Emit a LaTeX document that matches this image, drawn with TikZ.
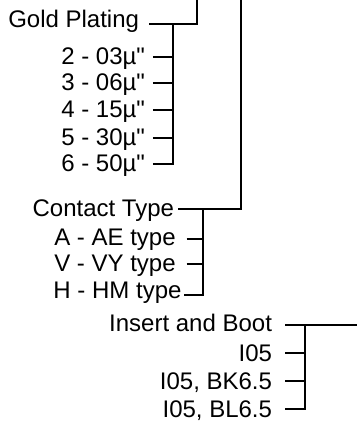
\documentclass[tikz,border=0pt]{standalone}
\usepackage{fontspec}
\newfontfamily\labelfont{Liberation Sans}
\begin{document}
\begin{tikzpicture}[x=0.5pt, y=-0.5pt, line width=1pt,
  lbl/.style={anchor=base east, inner sep=0pt, font=\labelfont\fontsize{12}{14}\selectfont}]
\useasboundingbox (0,0) rectangle (357,424);

% Nodes
\node[lbl] (gold) at (140,27) {Gold Plating};
\node[lbl] (g2) at (146,64.3) {2 - 03µ"};
\node[lbl] (g3) at (146,90.3) {3 - 06µ"};
\node[lbl] (g4) at (146,117.3) {4 - 15µ"};
\node[lbl] (g5) at (146,145.3) {5 - 30µ"};
\node[lbl] (g6) at (146,171.3) {6 - 50µ"};

\node[lbl] (contact) at (175,216) {Contact Type};
\node[lbl] (ctA) at (176.7,245) {A - AE type};
\node[lbl] (ctV) at (176.7,271.5) {V - VY type};
\node[lbl] (ctH) at (182.5,298.3) {H - HM type};

\node[lbl] (insert) at (273,331.5) {Insert and Boot};
\node[lbl] (ib1) at (273,361.3) {I05};
\node[lbl] (ib2) at (273,389.3) {I05, BK6.5};
\node[lbl] (ib3) at (273,417.3) {I05, BL6.5};

% Coordinates
\coordinate (gold-top) at (197,0);
\coordinate (gold-spine) at (173,24);
\coordinate (contact-top) at (241,0);
\coordinate (contact-spine) at (203,209);
\coordinate (insert-end) at (357,325);
\coordinate (insert-spine) at (305,325);

% Edges
\draw ([xshift=4.5pt,yshift=1.5pt]gold.base east) -| (gold-top);
\draw ([xshift=3.4pt,yshift=3.65pt]g2.base east) -| (gold-spine);
\draw ([xshift=3.4pt,yshift=3.65pt]g3.base east) -| (gold-spine);
\draw ([xshift=3.4pt,yshift=3.65pt]g4.base east) -| (gold-spine);
\draw ([xshift=3.4pt,yshift=3.65pt]g5.base east) -| (gold-spine);
\draw ([xshift=3.4pt,yshift=3.65pt]g6.base east) -| (gold-spine);

\draw ([xshift=1.65pt,yshift=3.5pt]contact.base east) -| (contact-top);
\draw ([xshift=5pt,yshift=3pt]ctA.base east) -| (contact-spine);
\draw ([xshift=5pt,yshift=3.75pt]ctV.base east) -| (contact-spine);
\draw ([xshift=0.75pt,yshift=1.65pt]ctH.base east) -| (contact-spine);

\draw ([xshift=6pt,yshift=3.25pt]insert.base east) -- (insert-end);
\draw ([xshift=6pt,yshift=4.15pt]ib1.base east) -| (insert-spine);
\draw ([xshift=6pt,yshift=4.15pt]ib2.base east) -| (insert-spine);
\draw ([xshift=6pt,yshift=4.15pt]ib3.base east) -| (insert-spine);

\end{tikzpicture}
\end{document}
